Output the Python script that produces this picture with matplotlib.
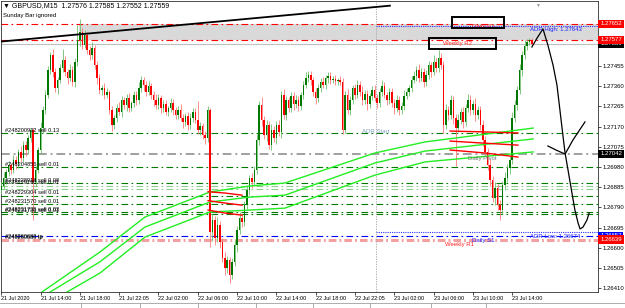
import numpy as np
import matplotlib
matplotlib.use("Agg")
import matplotlib.pyplot as plt
from matplotlib.lines import Line2D
from matplotlib.patches import Rectangle

plt.rcParams['font.family'] = ['Liberation Sans', 'DejaVu Sans']

PIP = 0.0001

# GBPUSD M15 candles, first bar 21 Jul 10:00
first_open = 1.26872
closes = [
    1.26891, 1.26928, 1.26957, 1.26989, 1.26966, 1.27013, 1.26994, 1.27051, 1.27022, 1.27083,
    1.27060, 1.27116, 1.27154, 1.26910, 1.26966, 1.27060, 1.27163, 1.27248, 1.27318, 1.27436,
    1.27506, 1.27427, 1.27351, 1.27389, 1.27445, 1.27483, 1.27427, 1.27398, 1.27436, 1.27380,
    1.27474, 1.27577, 1.27615, 1.27553, 1.27600, 1.27530, 1.27506, 1.27539, 1.27459, 1.27398,
    1.27342, 1.27351, 1.27318, 1.27333, 1.27248, 1.27177, 1.27210, 1.27257, 1.27239, 1.27295,
    1.27271, 1.27304, 1.27257, 1.27281, 1.27318, 1.27295, 1.27351, 1.27389, 1.27365, 1.27333,
    1.27361, 1.27318, 1.27295, 1.27271, 1.27304, 1.27257, 1.27276, 1.27239, 1.27257, 1.27281,
    1.27248, 1.27224, 1.27248, 1.27210, 1.27192, 1.27220, 1.27177, 1.27210, 1.27239, 1.27201,
    1.27154, 1.27173, 1.27130, 1.27116, 1.27248, 1.26674, 1.26731, 1.26646, 1.26707, 1.26628,
    1.26552, 1.26505, 1.26543, 1.26472, 1.26534, 1.26613, 1.26684, 1.26740, 1.26722, 1.26801,
    1.26872, 1.26928, 1.26910, 1.26966, 1.27107, 1.27271, 1.27201, 1.27130, 1.27177, 1.27083,
    1.27154, 1.27116, 1.27177, 1.27145, 1.27318, 1.27224, 1.27295, 1.27257, 1.27314, 1.27276,
    1.27295, 1.27267, 1.27318, 1.27365, 1.27398, 1.27412, 1.27389, 1.27333, 1.27304, 1.27351,
    1.27380, 1.27365, 1.27398, 1.27408, 1.27389, 1.27394, 1.27384, 1.27389, 1.27380, 1.27154,
    1.27318, 1.27248, 1.27295, 1.27351, 1.27318, 1.27365, 1.27333, 1.27295, 1.27323, 1.27276,
    1.27314, 1.27342, 1.27304, 1.27281, 1.27333, 1.27361, 1.27318, 1.27295, 1.27333, 1.27281,
    1.27257, 1.27295, 1.27248, 1.27267, 1.27314, 1.27333, 1.27351, 1.27389, 1.27408, 1.27436,
    1.27398, 1.27427, 1.27380, 1.27412, 1.27459, 1.27427, 1.27474, 1.27445, 1.27492, 1.27459,
    1.27177, 1.27248, 1.27224, 1.27295, 1.27210, 1.27163, 1.27201, 1.27239, 1.27192, 1.27257,
    1.27295, 1.27248, 1.27276, 1.27224, 1.27248, 1.27177, 1.27107, 1.27051, 1.26989, 1.26919,
    1.26834, 1.26881, 1.26801, 1.26778, 1.26895, 1.26928, 1.26975, 1.27013, 1.27210, 1.27271,
    1.27342, 1.27436, 1.27506, 1.27549, 1.27568, 1.27576, 1.27559,
]
# wick lengths in pips above / below the body
wick_up = [
    2, 3, 1.5, 2, 1, 2.5, 2, 1.5, 3, 2,
    2, 1.5, 1, 1, 2, 1.5, 3, 2, 2.5, 2,
    1.5, 3, 2, 1.5, 2, 5, 2, 1.5, 3, 2,
    2, 7, 6, 2, 2.5, 1.5, 2, 3, 1.5, 2,
    2, 1.5, 2.5, 2, 1, 2, 1.5, 2, 3, 2,
    1.5, 2, 2.5, 1, 2, 2, 3, 2, 1.5, 2,
    2.5, 1.5, 2, 3, 2, 1.5, 2, 2, 1, 2.5,
    2, 1.5, 2, 3, 2, 1.5, 2, 2.5, 2, 2,
    9, 2, 1.5, 2, 2, 1, 3, 2, 4, 2,
    2, 3, 2, 1.5, 2, 2.5, 2, 3, 2, 2,
    2, 1.5, 2.5, 2, 3, 2, 4, 2, 2.5, 2,
    3, 2, 2, 2.5, 2, 3, 2, 1.5, 2, 2,
    2.5, 2, 1.5, 2, 3, 2, 2, 1.5, 2, 2,
    2, 2.5, 1.5, 2, 2, 1.5, 2, 1, 2, 2,
    2, 3, 2, 1.5, 2, 2.5, 2, 3, 2, 2,
    1.5, 2, 2.5, 2, 2, 3, 2, 1.5, 2, 2,
    2, 2.5, 2, 2, 3, 2, 1.5, 2, 2.5, 2,
    3, 2, 2, 2.5, 2, 1.5, 3, 2, 4, 2.5,
    2, 3, 2, 2.5, 2, 2, 3, 2, 2.5, 2,
    3, 2.5, 2, 3, 2, 2, 2.5, 2, 2, 3,
    2, 3, 2, 2.5, 2, 3, 2, 2, 3, 2.5,
    2, 3, 2, 3, 1.5, 1, 0.9,
]
wick_dn = [
    2, 1.5, 3, 2, 2, 1.5, 2.5, 2, 1.5, 2,
    3, 2, 2, 18, 2, 1.5, 2, 2.5, 2, 1.5,
    2, 2.5, 2, 3, 1.5, 2, 2, 3, 1.5, 2,
    2.5, 2, 3, 2, 1.5, 2, 2.5, 2, 2, 3,
    2, 2.5, 2, 1.5, 2, 3, 2, 2, 1.5, 2.5,
    2, 3, 2, 1.5, 2, 2.5, 2, 2, 3, 2,
    1.5, 2, 3, 2, 2, 2.5, 2, 1.5, 2, 2,
    2.5, 2, 2, 1.5, 3, 2, 2.5, 2, 2, 1.5,
    2, 2.5, 2, 3, 1.8, 7, 4, 3, 2, 3,
    2, 3, 2.5, 3.7, 2, 2, 3, 2, 2.5, 2,
    2, 2.5, 3, 2, 2, 2.5, 3, 2, 3, 2,
    2.5, 2, 3, 2, 3, 2, 2.5, 2, 2, 3,
    2, 2.5, 2, 2, 1.5, 2, 2.5, 2, 3, 2,
    2, 1.5, 2, 2.5, 2, 1.5, 2, 2, 1.5, 2,
    1.5, 2, 2.5, 2, 2, 1.5, 2, 2.5, 2, 3,
    2, 2, 1.5, 2.5, 2, 2, 1.5, 2.5, 2, 2,
    3, 2, 2.5, 2, 2, 1.5, 2, 2, 1.5, 2.5,
    2, 1.5, 2.5, 2, 2, 2.5, 1.5, 2, 2, 2,
    3.7, 2, 2.5, 2, 3, 18, 2, 2, 3, 2,
    2, 2.5, 2, 3, 2, 2.5, 3, 2, 2.5, 3,
    2, 3, 2.5, 4.7, 2, 2.5, 2, 3, 2, 2,
    2.5, 2, 3, 2, 2, 1.5, 0.7,
]

time_labels = ["21 Jul 2020", "21 Jul 14:00", "21 Jul 18:00", "21 Jul 22:05", "22 Jul 02:00",
               "22 Jul 06:00", "22 Jul 10:00", "22 Jul 14:00", "22 Jul 18:00", "22 Jul 22:05",
               "23 Jul 02:00", "23 Jul 06:00", "23 Jul 10:00", "23 Jul 14:00"]
price_ticks = [1.26410, 1.26505, 1.26600, 1.26695, 1.26790, 1.26885,
               1.26980, 1.27075, 1.27170, 1.27265, 1.27360, 1.27455]

# levels
daily_r1 = 1.27652
weekly_r2 = 1.27577
bid = 1.27559
adr_high = 1.27643
adr_low = 1.26674
daily_pivot = 1.27042
daily_s1 = 1.26657
weekly_r1 = 1.26639
separator_bar = 152.4
band_start_bar = 31.7

order_prices = [1.27138, 1.26980, 1.26903, 1.26892, 1.26877, 1.26845, 1.26805, 1.26767, 1.26758]
order_light = [False, False, False, True, True, False, False, False, False]
order_texts = ["#248200932 sell 0.13", "#248204856 sell 0.01", "#248228918 sell 0.08",
               "#248229190 sell 0.01", "#248229304 sell 0.01", "#248231570 sell 0.01",
               "#248231735 sell 0.03", "#248231736 sell 0.01", "#248260683 tp", "#248260680 tp"]
order_text_prices = [1.27138, 1.26980, 1.26903, 1.26892, 1.26845, 1.26805,
                     1.26767, 1.26763, 1.26639, 1.26636]

# envelope (green) knots
env_top_bars = [16.6, 40.2, 58.5, 85, 101.3, 115.5, 152.1, 172.5, 216.5]
env_top = [1.26393, 1.26581, 1.26745, 1.26863, 1.26891, 1.26905, 1.27046, 1.27098, 1.27163]
env_mid_bars = [19.9, 40.2, 58.5, 85, 101.3, 115.5, 152.1, 172.5, 216.5]
env_mid = [1.26393, 1.26535, 1.26698, 1.26816, 1.26839, 1.26848, 1.26999, 1.27055, 1.27112]
env_bot_bars = [26.8, 40.2, 58.5, 85, 101.3, 115.5, 152.1, 172.5, 216.5]
env_bot = [1.26393, 1.26482, 1.26651, 1.26769, 1.26778, 1.26787, 1.26942, 1.27004, 1.27051]
# flat red parts
red_a_bars = [84.2, 91, 98]
red_a = [[1.26864, 1.26858, 1.26848], [1.26822, 1.26811, 1.26801], [1.26778, 1.26764, 1.26754]]
red_b_bars = [182.7, 196.9, 210.3]
red_b = [[1.27149, 1.27145, 1.27140], [1.27102, 1.27092, 1.27083], [1.27060, 1.27046, 1.27027]]

# hand drawn marks
trend_bars = [-0.5, 158.2]
trend_prices = [1.27569, 1.27738]
curve_bars = [216.0, 218.1, 220.5, 222.5, 224.6, 226.2, 227.4, 228.7, 229.5, 230.7, 232.3,
              233.5, 234.8, 235.6, 236.8, 238.4, 239.3]
curve_prices = [1.27544, 1.27586, 1.27629, 1.27553, 1.27459, 1.27365, 1.27248, 1.27121,
                1.27046, 1.26966, 1.26858, 1.26778, 1.26717, 1.26689, 1.26698, 1.26731, 1.26764]
branch_bars = [222.5, 225.8, 229.5, 232.7, 237.6]
branch_prices = [1.27079, 1.27060, 1.27041, 1.27107, 1.27192]
box_bars = [(183.5, 204.6), (174.1, 201.4)]
box_prices = [(1.27633, 1.27685), (1.27535, 1.27586)]

tag_prices = [1.27652, 1.27559, 1.27577, 1.27042, 1.26657, 1.26639]
tag_colors = ['#ff0000', '#000000', '#ff0000', '#000000', '#0000ff', '#ff0000']

DASHDOT = (0, (6, 3, 1.5, 3))

o = np.array([first_open] + closes[:-1])
c = np.array(closes)
hi = np.maximum(o, c) + np.array(wick_up) * PIP
lo = np.minimum(o, c) - np.array(wick_dn) * PIP
idx = np.arange(len(c))
bull = c >= o

fig = plt.figure(figsize=(6.25, 3.08), dpi=100)
ax = fig.add_axes([1 / 625, 16 / 308, 597 / 625, 291 / 308])
x_max = 242.9
ax.set_xlim(-0.08, x_max)
ax.set_ylim(1.26393, 1.27760)

# zones and levels
ax.fill_between([band_start_bar, x_max], weekly_r2, daily_r1, color='#d9d9d9', lw=0, zorder=0)
ax.axhline(bid, color='#c0c0c0', lw=0.8, zorder=1)
ax.axhline(daily_r1, color='#ff0000', lw=0.8, ls=DASHDOT, zorder=1)
ax.axhline(weekly_r2, color='#ff0000', lw=0.8, ls=DASHDOT, zorder=1)
ax.plot([separator_bar, x_max], [adr_high, adr_high], color='#3030ff', lw=0.8, ls=(0, (1, 1)), zorder=1)
ax.plot([separator_bar, x_max], [adr_low, adr_low], color='#3030ff', lw=0.8, ls=(0, (1, 1)), zorder=1)
ax.axhline(daily_pivot, color='#a0a0a0', lw=1.4, ls=(0, (4.5, 2, 1, 2)), zorder=1)
ax.axhline(daily_s1, color='#0000ff', lw=0.8, ls=DASHDOT, zorder=1)
ax.axhline(weekly_r1, color='#f5a0a0', lw=2.2, ls=(0, (2.5, 1, 0.6, 1)), zorder=1)
for p, light in zip(order_prices, order_light):
    ax.axhline(p, color='#8ccc8c' if light else '#007a00', lw=0.8, ls=DASHDOT, zorder=1)
ax.axvline(separator_bar, color='#a0a0a0', lw=0.6, ls=(0, (1.5, 1.5)), zorder=1)

# candles
ax.vlines(idx[bull], lo[bull], hi[bull], color='#6cbf6c', lw=0.6, zorder=3)
ax.vlines(idx[~bull], lo[~bull], hi[~bull], color='#ff7a7a', lw=0.6, zorder=3)
body_h = np.maximum(np.abs(c - o), 0.00003)
ax.bar(idx, body_h, bottom=np.minimum(o, c), width=0.62,
       color=np.where(bull, '#007800', '#ff0000'), lw=0, zorder=3)

# envelope lines
for b, v in [(env_top_bars, env_top), (env_mid_bars, env_mid), (env_bot_bars, env_bot)]:
    ax.plot(b, v, color='#22ee22', lw=1.0, zorder=4)
for vals in red_a:
    ax.plot(red_a_bars, vals, color='#ff0000', lw=1.0, zorder=4)
for vals in red_b:
    ax.plot(red_b_bars, vals, color='#ff0000', lw=1.0, zorder=4)

# hand drawn
ax.plot(trend_bars, trend_prices, color='black', lw=1.3, zorder=5)
ax.plot(curve_bars, curve_prices, color='black', lw=0.9, zorder=5, clip_on=False)
ax.plot(branch_bars, branch_prices, color='black', lw=0.9, zorder=5)
for (b0, b1), (p0, p1) in zip(box_bars, box_prices):
    ax.add_patch(Rectangle((b0, p0), b1 - b0, p1 - p0, fill=False, ec='black', lw=1.4, zorder=6))

# labels
fs = 4.3
for t, p in zip(order_texts, order_text_prices):
    ax.annotate(t, (1.5, p), xytext=(0, 0.3), textcoords='offset points',
                fontsize=4.1, va='bottom', ha='left', color='black', zorder=6)
ax.text(191.6, 1.27638, "Daily R1", color='#ff2020', fontsize=fs, va='center', zorder=5)
ax.text(179.8, 1.27560, "Weekly R2", color='#ff2020', fontsize=fs, va='center', zorder=5)
ax.text(215.2, 1.27624, "ADR High: 1.27643", color='#2020ff', fontsize=fs, va='center', zorder=5, clip_on=True)
ax.text(215.2, 1.26656, "ADR Low: 1.26674", color='#2020ff', fontsize=fs, va='center', zorder=5, clip_on=True)
ax.text(190.0, 1.27022, "Daily Pivot", color='#707070', fontsize=fs, va='center', zorder=5)
ax.text(191.6, 1.26637, "Daily S1", color='#2020ff', fontsize=fs, va='center', zorder=5)
ax.text(180.6, 1.26618, "Weekly R1", color='#ff2020', fontsize=fs, va='center', zorder=5)
ax.text(146.9, 1.27149, "ADR Start", color='#7fa0c0', fontsize=fs, va='center', zorder=5)

fig.text(3 / 625, 1 - 6 / 308, "\u25bc GBPUSD,M15  1.27576 1.27585 1.27552 1.27559",
         fontsize=5, va='center', ha='left')
fig.text(3 / 625, 1 - 16 / 308, "Sunday Bar ignored", fontsize=4.3, va='center', ha='left')
fig.text(537 / 625, 1 - 5 / 308, "\u25bc", fontsize=3.5, color='#909090', va='center', ha='center')

# axes
ax.set_xticks(np.arange(0, 16 * len(time_labels), 16))
ax.set_xticklabels(time_labels, ha='left')
ax.set_yticks(price_ticks)
ax.set_yticklabels([f"{p:.5f}" for p in price_ticks])
ax.yaxis.tick_right()
ax.tick_params(axis='x', labelsize=4, length=2, width=0.5, pad=1)
ax.tick_params(axis='y', labelsize=fs, length=2, width=0.5, pad=1.5)
for s in ax.spines.values():
    s.set_linewidth(0.6)
    s.set_color('#303030')

for p, col in zip(tag_prices, tag_colors):
    ax.annotate(f"{p:.5f}", xy=(1, p), xycoords=('axes fraction', 'data'), xytext=(1.5, 0),
                textcoords='offset points', ha='left', va='center', fontsize=fs, color='white',
                bbox=dict(boxstyle='square,pad=0.3', fc=col, ec='none'),
                annotation_clip=False, zorder=10)

# tab strip under the chart
fig.add_artist(Line2D([0, 1], [5 / 308, 5 / 308], color='#a0a0a0', lw=0.6))
for xs in [81, 140, 198, 256, 313, 370, 431, 486]:
    fig.add_artist(Line2D([xs / 625, xs / 625], [0, 5 / 308], color='#a0a0a0', lw=0.6))

fig.savefig('out.png', dpi=100)
